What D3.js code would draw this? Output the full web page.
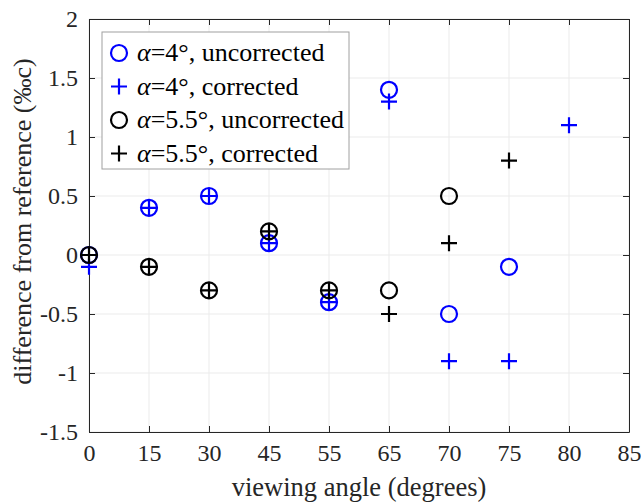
<!DOCTYPE html>
<html>
<head>
<meta charset="utf-8">
<script src="https://cdn.jsdelivr.net/npm/d3@7"></script>
<style>
  body { margin: 0; background: #fff; }
  svg text { font-family: "Liberation Serif", "Times New Roman", serif !important; }
</style>
</head>
<body>
<div id="chart"></div>
<script>
// viewing angles, plotted at equal spacing (category axis)
var angles = ["0", "15", "30", "45", "55", "65", "70", "75", "80", "85"];
var yTicks = [-1.5, -1, -0.5, 0, 0.5, 1, 1.5, 2];

// series values, null = no point
var a4Uncorr  = [0, 0.4, 0.5, 0.1, -0.4, 1.4, -0.5, -0.1, null, null];
var a4Corr    = [-0.1, 0.4, 0.5, 0.1, -0.4, 1.3, -0.9, -0.9, 1.1, null];
var a55Uncorr = [0, -0.1, -0.3, 0.2, -0.3, -0.3, 0.5, null, null, null];
var a55Corr   = [0, -0.1, -0.3, 0.2, -0.3, -0.5, 0.1, 0.8, null, null];

var series = [
    {name: "4°, uncorrected",   values: a4Uncorr,  color: "#0000ff", shape: "circle"},
    {name: "4°, corrected",     values: a4Corr,    color: "#0000ff", shape: "plus"},
    {name: "5.5°, uncorrected", values: a55Uncorr, color: "#000000", shape: "circle"},
    {name: "5.5°, corrected",   values: a55Corr,   color: "#000000", shape: "plus"}
];

var width = 641, height = 504,
    margin = {left: 89, right: 12, top: 19, bottom: 72},
    axisColor = "#262626",
    serif = "Liberation Serif";

var svg = d3.select("#chart").append("svg")
    .attr("width", width).attr("height", height)
    .attr("font-family", serif);

var x = d3.scalePoint().domain(angles).range([margin.left, width - margin.right]);
var y = d3.scaleLinear().domain([-1.5, 2]).range([height - margin.bottom, margin.top]);

var x0 = x.range()[0], x1 = x.range()[1], y0 = y.range()[0], y1 = y.range()[1];

// grid
svg.append("g").selectAll("line").data(angles).enter().append("line")
    .attr("x1", function(d) { return x(d); }).attr("x2", function(d) { return x(d); })
    .attr("y1", y0).attr("y2", y1)
    .attr("stroke", "#ebebeb").attr("stroke-width", 1);
svg.append("g").selectAll("line").data(yTicks).enter().append("line")
    .attr("y1", function(d) { return y(d); }).attr("y2", function(d) { return y(d); })
    .attr("x1", x0).attr("x2", x1)
    .attr("stroke", "#ebebeb").attr("stroke-width", 1);

// axes, ticks inward like matlab
var xAxis = svg.append("g").attr("transform", "translate(0," + y0 + ")")
    .call(d3.axisBottom(x).tickSizeInner(-6).tickSizeOuter(0).tickPadding(10));
var yAxis = svg.append("g").attr("transform", "translate(" + x0 + ",0)")
    .call(d3.axisLeft(y).tickValues(yTicks).tickSizeInner(-6).tickSizeOuter(0).tickPadding(11)
        .tickFormat(function(d) { return d; }));
var xTop = svg.append("g").attr("transform", "translate(0," + y1 + ")")
    .call(d3.axisTop(x).tickSizeInner(-6).tickSizeOuter(0).tickFormat(""));
var yRight = svg.append("g").attr("transform", "translate(" + x1 + ",0)")
    .call(d3.axisRight(y).tickValues(yTicks).tickSizeInner(-6).tickSizeOuter(0).tickFormat(""));

[xAxis, yAxis, xTop, yRight].forEach(function(g) {
    g.attr("font-family", serif).attr("font-size", 24);
    g.selectAll("path, line").attr("stroke", axisColor);
    g.selectAll("text").attr("fill", axisColor);
});
xAxis.selectAll("text").attr("dy", "0.8em");

// axis labels
svg.append("text")
    .attr("x", (x0 + x1) / 2).attr("y", height - 8)
    .attr("text-anchor", "middle").attr("fill", axisColor)
    .attr("font-size", 26.5)
    .text("viewing angle (degrees)");
svg.append("text")
    .attr("transform", "translate(31," + ((y0 + y1) / 2 - 4) + ") rotate(-90)")
    .attr("text-anchor", "middle").attr("fill", axisColor)
    .attr("font-size", 26)
    .text("difference from reference (‰c)");

function drawMarker(g, shape, color) {
    if (shape === "circle") {
        g.append("circle").attr("r", 8)
            .attr("fill", "none").attr("stroke", color).attr("stroke-width", 2.2);
    } else {
        g.append("path").attr("d", "M-8,0H8M0,-8V8")
            .attr("fill", "none").attr("stroke", color).attr("stroke-width", 2.2);
    }
}

// points
series.forEach(function(s) {
    var pts = angles.map(function(a, i) { return {a: a, v: s.values[i]}; })
        .filter(function(p) { return p.v !== null; });
    svg.append("g").selectAll("g").data(pts).enter().append("g")
        .attr("transform", function(p) { return "translate(" + x(p.a) + "," + y(p.v) + ")"; })
        .each(function() { drawMarker(d3.select(this), s.shape, s.color); });
});

// legend
var legend = svg.append("g").attr("transform", "translate(102,32)");
legend.append("rect").attr("width", 247).attr("height", 137)
    .attr("fill", "#fff").attr("stroke", "#a0a0a0").attr("stroke-width", 1);
series.forEach(function(s, i) {
    var row = legend.append("g").attr("transform", "translate(17," + (21 + i * 33.5) + ")");
    drawMarker(row, s.shape, s.color);
    var t = row.append("text").attr("x", 18).attr("y", 8)
        .attr("fill", "#000").attr("font-size", 26);
    t.append("tspan").attr("font-style", "italic").text("α");
    t.append("tspan").text("=" + s.name);
});
</script>
</body>
</html>
